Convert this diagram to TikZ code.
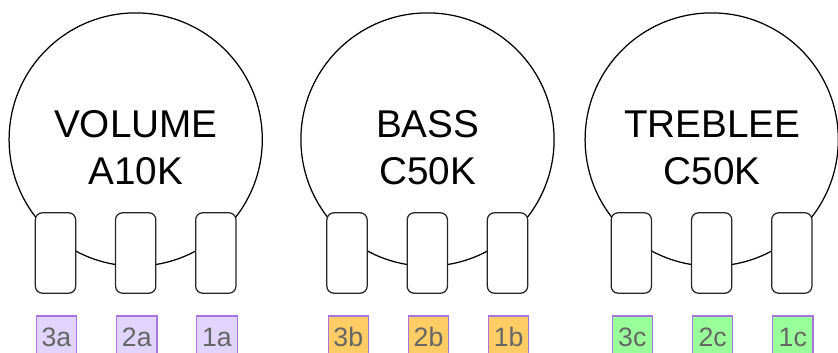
\documentclass[tikz,border=0pt]{standalone}
\usepackage{fontspec}
\setmainfont{Liberation Sans}
\definecolor{lilac}{HTML}{E1D5FF}
\definecolor{amber}{HTML}{FFCC66}
\definecolor{mint}{HTML}{99FF99}
\definecolor{edgepurple}{HTML}{A874E0}
\definecolor{labelgrey}{HTML}{666666}
\tikzset{
  body/.style={circle,draw=black,fill=white,line width=1.25pt,minimum size=253.2pt,inner sep=0pt,outer sep=0pt},
  pad/.style={rectangle,rounded corners=7pt,draw=black!85,fill=white,line width=1.25pt,minimum width=40.3pt,minimum height=80.4pt,inner sep=0pt,outer sep=0pt},
  tag/.style={rectangle,draw=edgepurple,line width=1.25pt,minimum width=40.3pt,minimum height=40pt,inner sep=0pt,outer sep=0pt},
  tagtext/.style={text=labelgrey,font=\fontsize{26.67pt}{30pt}\selectfont,anchor=base,inner sep=0pt},
  title/.style={text=black,font=\fontsize{38.7pt}{47pt}\selectfont,anchor=base,inner sep=0pt}
}
\begin{document}
\begin{tikzpicture}[x=1pt,y=-1pt]
\useasboundingbox (0,0) rectangle (838,353);
% VOLUME
\node[body] (cv) at (135.7,139.5) {};
\node[title] (tv1) at (135.9,137) {VOLUME};
\node[title] (tv2) at (135.9,184) {A10K};
\node[pad] (pv3) at (55.5,253) {};
\node[pad] (pv2) at (135.7,253) {};
\node[pad] (pv1) at (215.8,253) {};
\node[tag,fill=lilac] (lv3) at (56.5,336) {};
\node[tag,fill=lilac] (lv2) at (136.8,336) {};
\node[tag,fill=lilac] (lv1) at (217,336) {};
\node[tagtext] (lt3a) at (56.5,346) {3a};
\node[tagtext] (lt2a) at (136.8,346) {2a};
\node[tagtext] (lt1a) at (217,346) {1a};
% BASS
\node[body] (cb) at (427.5,139.5) {};
\node[title] (tb1) at (427.7,137) {BASS};
\node[title] (tb2) at (427.7,184) {C50K};
\node[pad] (pb3) at (347,253) {};
\node[pad] (pb2) at (427.3,253) {};
\node[pad] (pb1) at (507.5,253) {};
\node[tag,fill=amber] (lb3) at (348.3,336) {};
\node[tag,fill=amber] (lb2) at (428.5,336) {};
\node[tag,fill=amber] (lb1) at (508.7,336) {};
\node[tagtext] (lt3b) at (348.3,346) {3b};
\node[tagtext] (lt2b) at (428.5,346) {2b};
\node[tagtext] (lt1b) at (508.7,346) {1b};
% TREBLE
\node[body] (ct) at (711.7,139.5) {};
\node[title] (tt1) at (712.2,137) {TREBLEE};
\node[title] (tt2) at (712.2,184) {C50K};
\node[pad] (pt3) at (631.3,253) {};
\node[pad] (pt2) at (711.7,253) {};
\node[pad] (pt1) at (791.8,253) {};
\node[tag,fill=mint] (lt3) at (632.3,336) {};
\node[tag,fill=mint] (lt2) at (712.7,336) {};
\node[tag,fill=mint] (lt1) at (792.8,336) {};
\node[tagtext] (lt3c) at (632.3,346) {3c};
\node[tagtext] (lt2c) at (712.7,346) {2c};
\node[tagtext] (lt1c) at (792.8,346) {1c};
\end{tikzpicture}
\end{document}
